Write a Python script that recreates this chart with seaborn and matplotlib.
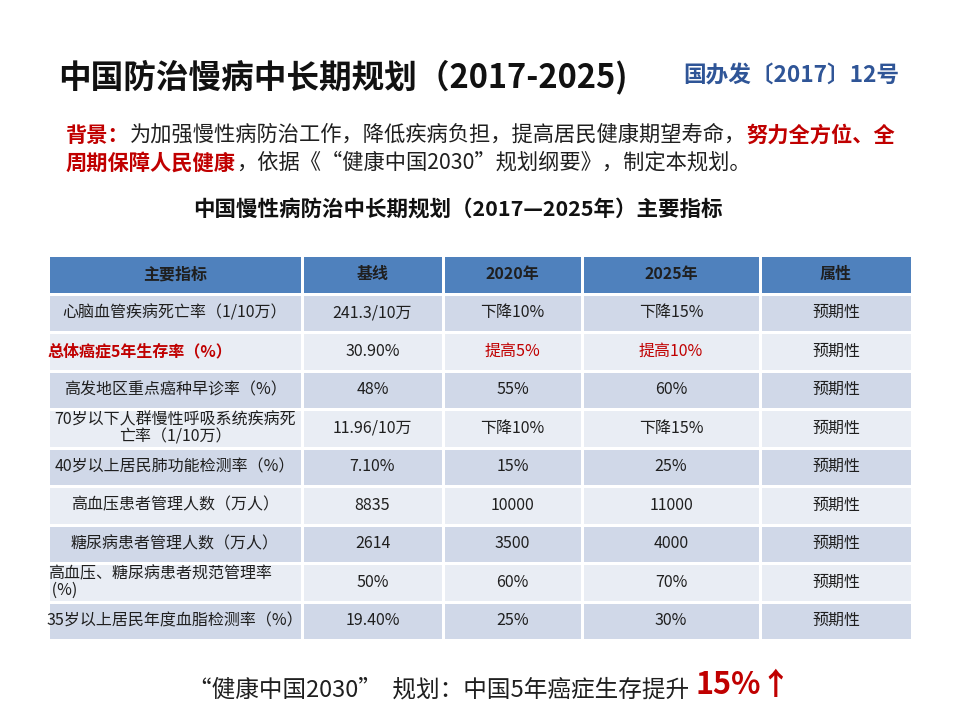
import numpy as np
import matplotlib.pyplot as plt
from matplotlib.colors import ListedColormap
import seaborn as sns

sns.set_theme(style="white")
plt.rcParams['font.family'] = ['Noto Sans CJK SC', 'DejaVu Sans']

header = ['主要指标', '基线', '2020年', '2025年', '属性']
indicators = [
    '心脑血管疾病死亡率（1/10万）',
    '总体癌症5年生存率（%）',
    '高发地区重点癌种早诊率（%）',
    '70岁以下人群慢性呼吸系统疾病死\n亡率（1/10万）',
    '40岁以上居民肺功能检测率（%）',
    '高血压患者管理人数（万人）',
    '糖尿病患者管理人数（万人）',
    '高血压、糖尿病患者规范管理率\n (%)',
    '35岁以上居民年度血脂检测率（%）',
]
baseline = ['241.3/10万', '30.90%', '48%', '11.96/10万', '7.10%', '8835', '2614', '50%', '19.40%']
target_2020 = ['下降10%', '提高5%', '55%', '下降10%', '15%', '10000', '3500', '60%', '25%']
target_2025 = ['下降15%', '提高10%', '60%', '下降15%', '25%', '11000', '4000', '70%', '30%']
attribute = ['预期性'] * 9

RED = '#C00000'
TXT = '#1f1f1f'

columns = [indicators, baseline, target_2020, target_2025, attribute]
col_widths = [254, 141, 139, 178, 152]
highlight_row = 1          # the cancer survival row is printed in red
left_rows = {1, 7}         # first-column cells that sit flush left

fig = plt.figure(figsize=(9.6, 7.2), dpi=100)
gs = fig.add_gridspec(1, 5, left=48/960, right=912/960, top=1-255/720, bottom=1-640/720,
                      width_ratios=col_widths, wspace=0)

# 0 = header, 1 = dark band, 2 = light band
codes = np.array([0] + [1 if i % 2 == 0 else 2 for i in range(len(indicators))]).reshape(-1, 1)
cmap = ListedColormap(['#4F81BD', '#D0D8E8', '#E9EDF4'])

for j, col in enumerate(columns):
    ax = fig.add_subplot(gs[0, j])
    sns.heatmap(codes, cmap=cmap, vmin=-0.5, vmax=2.5, cbar=False,
                linewidths=1.0, linecolor='white', ax=ax)
    ax.set_xticks([])
    ax.set_yticks([])
    ax.text(0.5, 0.5, header[j], ha='center', va='center', fontsize=11.5,
            fontweight='bold', color=TXT)
    for i, val in enumerate(col):
        color = TXT
        weight = 'normal'
        if i == highlight_row and j in (0, 2, 3):
            color = RED
            weight = 'bold' if j == 0 else 'normal'
        if j == 0 and i in left_rows:
            ax.text(0.0, i + 1.5, val, ha='left', va='center', fontsize=11.5,
                    color=color, fontweight=weight, multialignment='left', linespacing=1.0)
        else:
            ax.text(0.5, i + 1.5, val, ha='center', va='center', fontsize=11.5,
                    color=color, fontweight=weight, multialignment='center', linespacing=1.0)

# slide texts on a full-figure overlay
bg = fig.add_axes([0, 0, 1, 1])
bg.set_axis_off()
bg.set_xlim(0, 960)
bg.set_ylim(720, 0)

bg.text(58, 77, '中国防治慢病中长期规划（2017-2025)', fontsize=23.5, fontweight='heavy',
        va='center', ha='left', color='#111111')
bg.text(683, 76, '国办发〔2017〕12号', fontsize=16.3, fontweight='semibold',
        va='center', ha='left', color='#2F5597')


def rich_line(x, y, pieces):
    prev = None
    for txt, c, w, size in pieces:
        if prev is None:
            prev = bg.text(x, y, txt, color=c, fontweight=w, fontsize=size,
                           va='baseline', ha='left')
        else:
            prev = bg.annotate(txt, xy=(1, 0), xycoords=prev, va='bottom', ha='left',
                               color=c, fontweight=w, fontsize=size)
    return prev


rich_line(66, 142, [('背景：', RED, 'bold', 15.3),
                    ('为加强慢性病防治工作，降低疾病负担，提高居民健康期望寿命，', TXT, 'normal', 15.3),
                    ('努力全方位、全', RED, 'bold', 15.3)])
rich_line(66, 170, [('周期保障人民健康', RED, 'bold', 15.3),
                    ('，依据《“健康中国2030”规划纲要》，制定本规划。', TXT, 'normal', 15.3)])

bg.text(458, 210, '中国慢性病防治中长期规划（2017—2025年）主要指标', fontsize=15.5,
        fontweight='bold', ha='center', va='center', color='#111111')

bg.text(188, 690, '“健康中国2030”  规划：中国5年癌症生存提升', fontsize=17,
        ha='left', va='center', color=TXT)
bg.text(695, 685, '15%↑', fontsize=22, fontweight='bold', ha='left', va='center', color=RED)

fig.savefig('out.png', dpi=100)
